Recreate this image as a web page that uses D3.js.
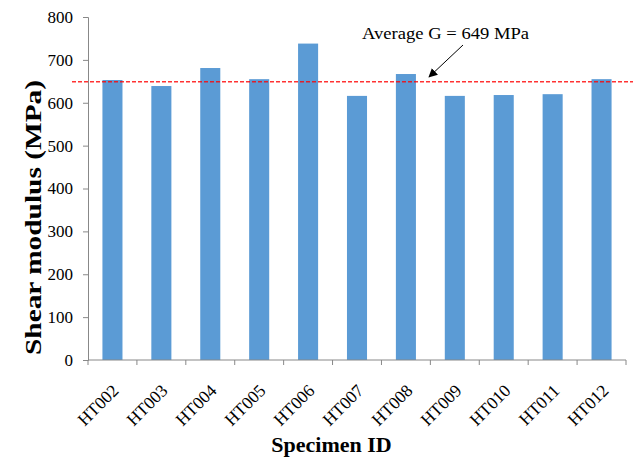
<!DOCTYPE html>
<html>
<head>
<meta charset="utf-8">
<script src="https://cdn.jsdelivr.net/npm/d3@7"></script>
<style>
  body { margin: 0; background: #fff; }
  .chart { position: relative; width: 633px; height: 459px; }
  .chart svg { position: absolute; left: 0; top: 0; }
  .xlabel {
    position: absolute;
    width: 0;
    height: 0;
    transform: rotate(-45deg);
    transform-origin: 0 0;
  }
  .xlabel span {
    position: absolute;
    right: 0;
    bottom: -4px;
    white-space: nowrap;
    font-family: "Liberation Serif", "Times New Roman", serif;
    font-size: 17.5px;
    line-height: 17px;
    color: #000;
  }
</style>
</head>
<body>
<script>
// chart data
const specimens = ['HT002', 'HT003', 'HT004', 'HT005', 'HT006', 'HT007',
  'HT008', 'HT009', 'HT010', 'HT011', 'HT012'];
const shearModulus = [653, 639, 681, 655, 738, 616, 667, 616, 618, 620, 655];
const averageG = 649;
const yTicks = [0, 100, 200, 300, 400, 500, 600, 700, 800];

const width = 633;
const height = 459;
const margin = { top: 17, right: 7, bottom: 99, left: 88 };
const serif = 'Liberation Serif, Times New Roman, Times, serif';

const chart = d3.select('body')
  .append('div')
  .classed('chart', true);

const svg = chart.append('svg')
  .attr('width', width)
  .attr('height', height)
  .attr('font-family', serif);

const x = d3.scaleBand()
  .domain(specimens)
  .range([margin.left, width - margin.right])
  .paddingInner(0.59)
  .paddingOuter(0.295);

const y = d3.scaleLinear()
  .domain([0, 800])
  .range([height - margin.bottom, margin.top]);

// bars
svg.selectAll('rect.bar')
  .data(specimens)
  .enter()
  .append('rect')
  .attr('class', 'bar')
  .attr('x', (d) => x(d))
  .attr('width', x.bandwidth())
  .attr('y', (d, i) => y(shearModulus[i]))
  .attr('height', (d, i) => y(0) - y(shearModulus[i]))
  .attr('fill', '#5B9BD5');

// y axis
const yAxis = svg.append('g')
  .attr('transform', `translate(${margin.left},0)`)
  .call(d3.axisLeft(y).tickValues(yTicks).tickSize(5).tickPadding(10))
  .attr('font-family', serif)
  .attr('font-size', 17);

yAxis.selectAll('path, line').attr('stroke', '#888');
yAxis.selectAll('text').attr('fill', '#000');

// x axis: ticks sit on band boundaries
const xBase = y(0);
const step = x.step();
const bounds = d3.range(specimens.length + 1).map((i) => margin.left + i * step);

svg.append('line')
  .attr('x1', margin.left)
  .attr('x2', width - margin.right)
  .attr('y1', xBase)
  .attr('y2', xBase)
  .attr('stroke', '#888');

svg.selectAll('line.xtick')
  .data(bounds)
  .enter()
  .append('line')
  .attr('class', 'xtick')
  .attr('x1', (d) => d)
  .attr('x2', (d) => d)
  .attr('y1', xBase)
  .attr('y2', xBase + 5)
  .attr('stroke', '#888');

// slanted category labels (html, rotated with css)
chart.selectAll('div.xlabel')
  .data(specimens)
  .enter()
  .append('div')
  .attr('class', 'xlabel')
  .style('left', (d) => (x(d) + x.bandwidth() / 2 + 7) + 'px')
  .style('top', (xBase + 31) + 'px')
  .append('span')
  .text((d) => d);

// average line
svg.append('line')
  .attr('x1', 72)
  .attr('x2', width)
  .attr('y1', y(averageG))
  .attr('y2', y(averageG))
  .attr('stroke', '#FF0000')
  .attr('stroke-opacity', 0.8)
  .attr('stroke-width', 1.5)
  .attr('stroke-dasharray', '4,2');

// annotation
svg.append('defs')
  .append('marker')
  .attr('id', 'arrow')
  .attr('viewBox', '0 0 10 10')
  .attr('refX', 9)
  .attr('refY', 5)
  .attr('markerWidth', 9)
  .attr('markerHeight', 9)
  .attr('orient', 'auto')
  .append('path')
  .attr('d', 'M0,0 L10,5 L0,10 z')
  .attr('fill', '#000');

svg.append('line')
  .attr('x1', 463)
  .attr('y1', 45)
  .attr('x2', 429)
  .attr('y2', 77)
  .attr('stroke', '#000')
  .attr('stroke-width', 1)
  .attr('marker-end', 'url(#arrow)');

svg.append('text')
  .attr('x', 362)
  .attr('y', 39)
  .attr('textLength', 167)
  .attr('lengthAdjust', 'spacingAndGlyphs')
  .attr('font-size', 17)
  .text(`Average G = ${averageG} MPa`);

// axis titles
svg.append('text')
  .attr('transform', `translate(41,${(80 + 355) / 2}) rotate(-90)`)
  .attr('text-anchor', 'middle')
  .attr('textLength', 275)
  .attr('lengthAdjust', 'spacingAndGlyphs')
  .attr('font-size', 24)
  .attr('font-weight', 'bold')
  .text('Shear modulus (MPa)');

svg.append('text')
  .attr('x', (271 + 392) / 2)
  .attr('y', 452)
  .attr('text-anchor', 'middle')
  .attr('font-size', 22)
  .attr('font-weight', 'bold')
  .text('Specimen ID');
</script>
</body>
</html>
